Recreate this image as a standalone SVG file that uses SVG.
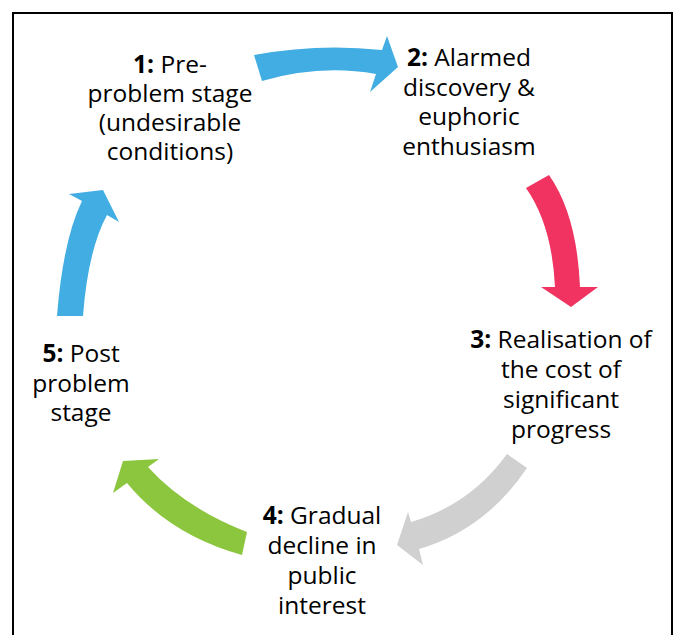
<svg xmlns="http://www.w3.org/2000/svg" width="676" height="635" viewBox="0 0 676 635">
  <style>
    .label { font-family: "Open Sans", "Liberation Sans", sans-serif; font-size: 24.5px; fill: #000; text-anchor: middle; }
    .num { font-weight: bold; }
    .frame { fill: #fff; stroke: #000; stroke-width: 2; }
  </style>
  <rect width="676" height="635" fill="#fff"/>
  <rect class="frame" x="13" y="13" width="659" height="640"/>

  <!-- curved block arrows linking the five stages -->
  <g id="connectors">
    <path id="arrow-1-2" fill="#41ADE2" d="M254,55 Q318,43 382,50 L387,36 L398,67 L370,92 L376,74 Q320,64 262,81 Z"/>
    <path id="arrow-2-3" fill="#F03360" d="M526,188 Q552,225 555,287 L541,287 L571,307 L598,287 L580,287 Q577,215 549,175 Z"/>
    <path id="arrow-3-4" fill="#D0D0D0" d="M507,454 L527,468 Q485,530 419,549 L423,565 L397,545 L408,512 L411,522 Q470,505 507,454 Z"/>
    <path id="arrow-4-5" fill="#8CC63F" d="M247,532 Q185,508 148,467 L159,459 L123,461 L113,493 L127,483 Q170,535 242,555 Z"/>
    <path id="arrow-5-1" fill="#41ADE2" d="M57,316 Q63,240 82,201 L69,194 L103,190 L119,222 L107,215 Q88,250 83,316 Z"/>
  </g>

  <g id="stage-1">
    <text class="label" x="170" y="73"><tspan class="num">1:</tspan> Pre-</text>
    <text class="label" x="170" y="102">problem stage</text>
    <text class="label" x="170" y="131">(undesirable</text>
    <text class="label" x="170" y="160">conditions)</text>
  </g>

  <g id="stage-2">
    <text class="label" x="469" y="66"><tspan class="num">2:</tspan> Alarmed</text>
    <text class="label" x="469" y="95.5">discovery &amp;</text>
    <text class="label" x="469" y="125">euphoric</text>
    <text class="label" x="469" y="154.5">enthusiasm</text>
  </g>

  <g id="stage-3">
    <text class="label" x="561" y="348"><tspan class="num">3:</tspan> Realisation of</text>
    <text class="label" x="561" y="378">the cost of</text>
    <text class="label" x="561" y="408">significant</text>
    <text class="label" x="561" y="438">progress</text>
  </g>

  <g id="stage-4">
    <text class="label" x="322" y="524"><tspan class="num">4:</tspan> Gradual</text>
    <text class="label" x="322" y="554">decline in</text>
    <text class="label" x="322" y="584">public</text>
    <text class="label" x="322" y="614">interest</text>
  </g>

  <g id="stage-5">
    <text class="label" x="81" y="362"><tspan class="num">5:</tspan> Post</text>
    <text class="label" x="81" y="391.5">problem</text>
    <text class="label" x="81" y="421">stage</text>
  </g>
</svg>
